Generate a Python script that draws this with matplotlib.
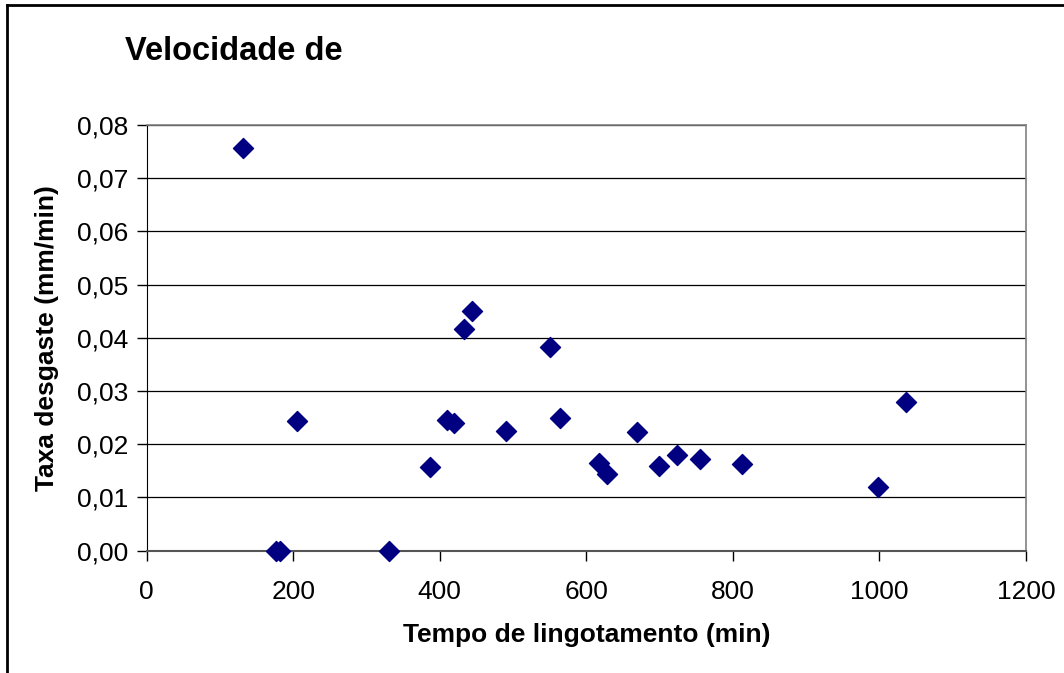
import matplotlib
matplotlib.use("Agg")
import matplotlib.pyplot as plt
from matplotlib.lines import Line2D

tempo = [131.8, 176, 182, 204.7, 331, 386.6, 409.4, 419.8, 433.7, 444.6, 490.3,
         550.4, 563.6, 616.8, 627.7, 669.5, 699.1, 723.3, 755.5, 812.8, 998, 1036.6]
taxa = [0.0757, 0.0, 0.0, 0.0244, 0.0, 0.01567, 0.02456, 0.02394, 0.04157, 0.04505,
        0.02244, 0.03828, 0.0250, 0.01654, 0.01436, 0.02236, 0.01592, 0.01793,
        0.01718, 0.01624, 0.01203, 0.02795]
x_ticks = [0, 200, 400, 600, 800, 1000, 1200]
y_ticks = [0.00, 0.01, 0.02, 0.03, 0.04, 0.05, 0.06, 0.07, 0.08]
y_labels = ["0,00", "0,01", "0,02", "0,03", "0,04", "0,05", "0,06", "0,07", "0,08"]

plt.rcParams['font.family'] = ['Liberation Sans', 'DejaVu Sans']

fig = plt.figure(figsize=(10.64, 6.73), dpi=100)
ax = fig.add_axes([146.7/1064, 1-550.7/673, (1026-146.7)/1064, (550.7-125)/673])

ax.set_xlim(0, 1200)
ax.set_ylim(0, 0.08)
ax.set_xticks(x_ticks)
ax.set_yticks(y_ticks)
ax.set_yticklabels(y_labels)
ax.tick_params(axis='both', direction='out', length=7, width=1, labelsize=19, colors='black')
ax.tick_params(axis='y', pad=6)
ax.tick_params(axis='x', pad=14)
ax.yaxis.grid(True, color='black', linewidth=0.9)
ax.set_axisbelow(True)

for side in ['top', 'right']:
    ax.spines[side].set_color('#808080')
    ax.spines[side].set_linewidth(1.2)
ax.spines['left'].set_color('black')
ax.spines['bottom'].set_color('#555555')
ax.spines['bottom'].set_linewidth(1.5)

ax.scatter(tempo, taxa, marker='D', s=104, color='#000080', zorder=3, clip_on=False)

ax.set_xlabel("Tempo de lingotamento (min)", fontsize=19, fontweight='bold', labelpad=14)
ax.set_ylabel("Taxa desgaste (mm/min)", fontsize=19, fontweight='bold', labelpad=13)

fig.text(125/1064, 1-51/673, "Velocidade de", fontsize=23.5, fontweight='bold', ha='left', va='center')

# outer chart frame (top and left)
fig.add_artist(Line2D([7/1064, 7/1064], [0, 1-5/673], transform=fig.transFigure, color='black', linewidth=2))
fig.add_artist(Line2D([7/1064, 1], [1-5/673, 1-5/673], transform=fig.transFigure, color='black', linewidth=2))

fig.savefig("out.png", dpi=100)
